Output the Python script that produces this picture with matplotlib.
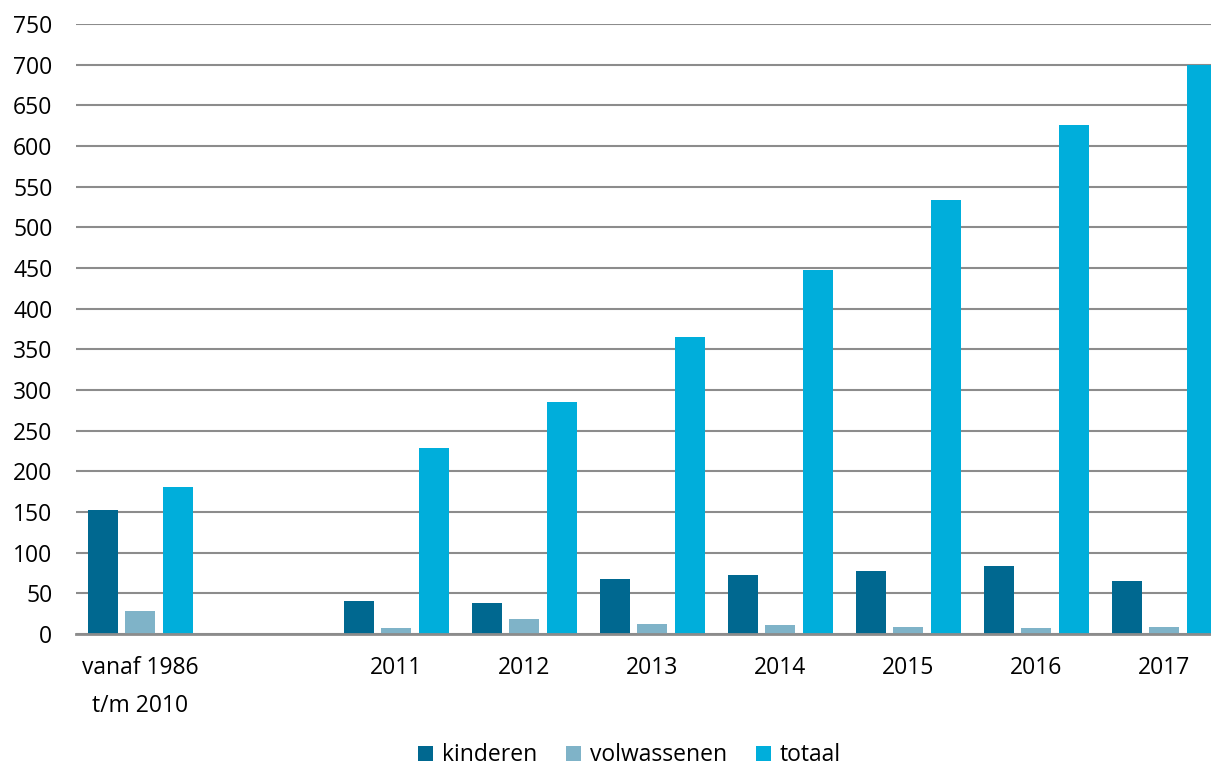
import numpy as np
import matplotlib.pyplot as plt

# Aantallen per periode
categories = ['vanaf 1986\nt/m 2010', '', '2011', '2012', '2013', '2014', '2015', '2016', '2017']
kinderen = [153, 0, 41, 38, 68, 72, 78, 84, 65]
volwassenen = [28, 0, 7, 18, 12, 11, 8, 7, 9]
totaal = [181, 0, 229, 285, 365, 448, 534, 626, 700]

series = [('kinderen', kinderen, '#006890'),
          ('volwassenen', volwassenen, '#7fb3c8'),
          ('totaal', totaal, '#00aedb')]

plt.rcParams['font.family'] = ['Open Sans', 'DejaVu Sans']

fig = plt.figure(figsize=(12.11, 7.68), dpi=100)
ax = fig.add_axes([0.0628, 0.1745, 0.9513, 0.794])

x = np.arange(len(categories))
width = 0.234
step = 0.293
for i, (name, vals, color) in enumerate(series):
    ax.bar(x + (i - 1) * step, vals, width, color=color, label=name, zorder=3)

ax.set_xlim(-0.5, len(categories) - 0.5)
ax.set_ylim(0, 750)
ax.set_yticks(range(0, 751, 50))
ax.set_xticks(x)
ax.set_xticklabels(categories, linespacing=1.75)
ax.tick_params(axis='both', length=0, labelsize=16.5, colors='black')
ax.tick_params(axis='x', pad=16)
ax.tick_params(axis='y', pad=17)

# Horizontale rasterlijnen, geen kader
ax.yaxis.grid(True, color='#8c8c8c', linewidth=1.5, zorder=0)
for s in ['top', 'right', 'left']:
    ax.spines[s].set_visible(False)
ax.spines['bottom'].set_color('#8c8c8c')
ax.spines['bottom'].set_linewidth(2)
ax.spines['bottom'].set_zorder(4)

fig.legend(loc='lower center', bbox_to_anchor=(0.52, -0.026), ncol=3, frameon=False,
           fontsize=16.5, handlelength=0.65, handleheight=0.65, handletextpad=0.4,
           columnspacing=1.25)

plt.savefig('out.png', dpi=100)
